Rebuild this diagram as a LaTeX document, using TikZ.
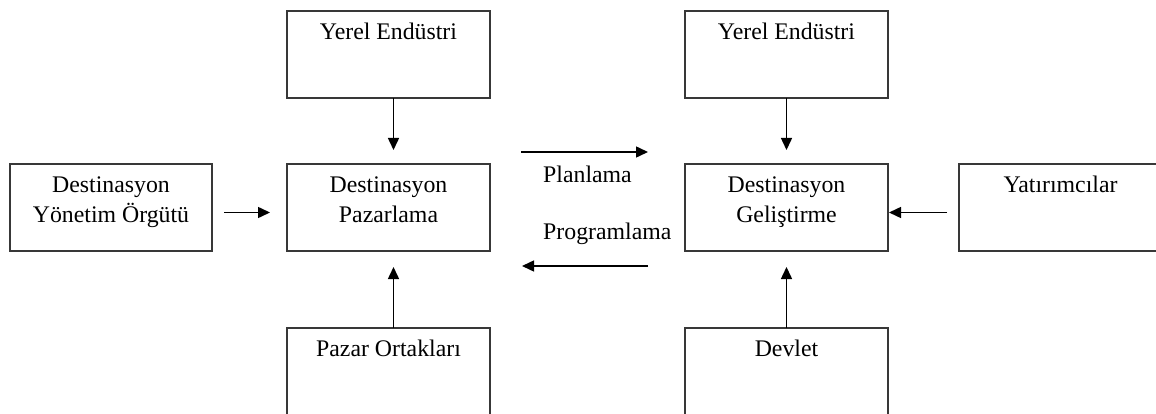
\documentclass[tikz,border=0pt]{standalone}
\usepackage{fontspec}
\setmainfont{Liberation Serif}
\usetikzlibrary{arrows.meta}
% fixed first-line height so every box label sits on the same baseline
\newcommand{\firstline}{\rule{0pt}{16.5pt}}
\begin{document}
\begin{tikzpicture}[x=1pt,y=-1pt,
  box/.style={draw=black!78, line width=1.6pt, minimum width=203pt, minimum height=87pt,
              inner sep=0pt, outer sep=0pt, anchor=north west},
  txt/.style={font=\fontsize{23.8pt}{30pt}\selectfont, align=center, inner sep=0pt, anchor=north},
  lbl/.style={font=\fontsize{23.8pt}{30pt}\selectfont, inner sep=0pt, anchor=base west},
  arr/.style={line width=1.5pt, -{Triangle[length=12pt,width=11pt]}}
]
\useasboundingbox (0,0) rectangle (1156,414);
\clip (0,0) rectangle (1156,414);

% boxes
\node[box, minimum width=202pt] (yon) at (10,164) {};
\node[box] (ye1) at (287,11) {};
\node[box] (paz) at (287,164) {};
\node[box] (ort) at (287,328) {};
\node[box] (ye2) at (685,11) {};
\node[box] (gel) at (685,164) {};
\node[box] (dev) at (685,328) {};
\node[box] (yat) at (959,164) {};

% box texts
\node[txt] (t-yon) at ([yshift=-12pt]yon.north) {\firstline Destinasyon\\Yönetim Örgütü};
\node[txt] (t-ye1) at ([yshift=-12pt]ye1.north) {\firstline Yerel Endüstri};
\node[txt] (t-paz) at ([yshift=-12pt]paz.north) {\firstline Destinasyon\\Pazarlama};
\node[txt] (t-ort) at ([yshift=-12pt]ort.north) {\firstline Pazar Ortakları};
\node[txt] (t-ye2) at ([yshift=-12pt]ye2.north) {\firstline Yerel Endüstri};
\node[txt] (t-gel) at ([yshift=-12pt]gel.north) {\firstline Destinasyon\\Geliştirme};
\node[txt] (t-dev) at ([yshift=-12pt]dev.north) {\firstline Devlet};
\node[txt] (t-yat) at ([yshift=-12pt]yat.north) {\firstline Yatırımcılar};

% labels between the two centres
\node[lbl] (plan) at (543,183) {Planlama};
\node[lbl] (prog) at (543,240) {Programlama};

% free ends of the exchange arrows
\coordinate (p1) at (521,152);
\coordinate (p2) at (648,152);
\coordinate (q1) at (648,266);
\coordinate (q2) at (522,266);

% connectors
\draw[arr] ([xshift=12pt,yshift=-5pt]yon.east) -- ([xshift=-17pt,yshift=-5pt]paz.west);
\draw[arr] ([xshift=5pt]ye1.south) -- ([xshift=5pt,yshift=14pt]paz.north);
\draw[arr] ([xshift=5pt]ort.north) -- ([xshift=5pt,yshift=-16pt]paz.south);
\draw[arr] (ye2.south) -- ([yshift=14pt]gel.north);
\draw[arr] (dev.north) -- ([yshift=-16pt]gel.south);
\draw[arr] ([xshift=-12pt,yshift=-5pt]yat.west) -- ([xshift=1pt,yshift=-5pt]gel.east);
\draw[arr] (p1) -- (p2);
\draw[arr] (q1) -- (q2);
\end{tikzpicture}
\end{document}
